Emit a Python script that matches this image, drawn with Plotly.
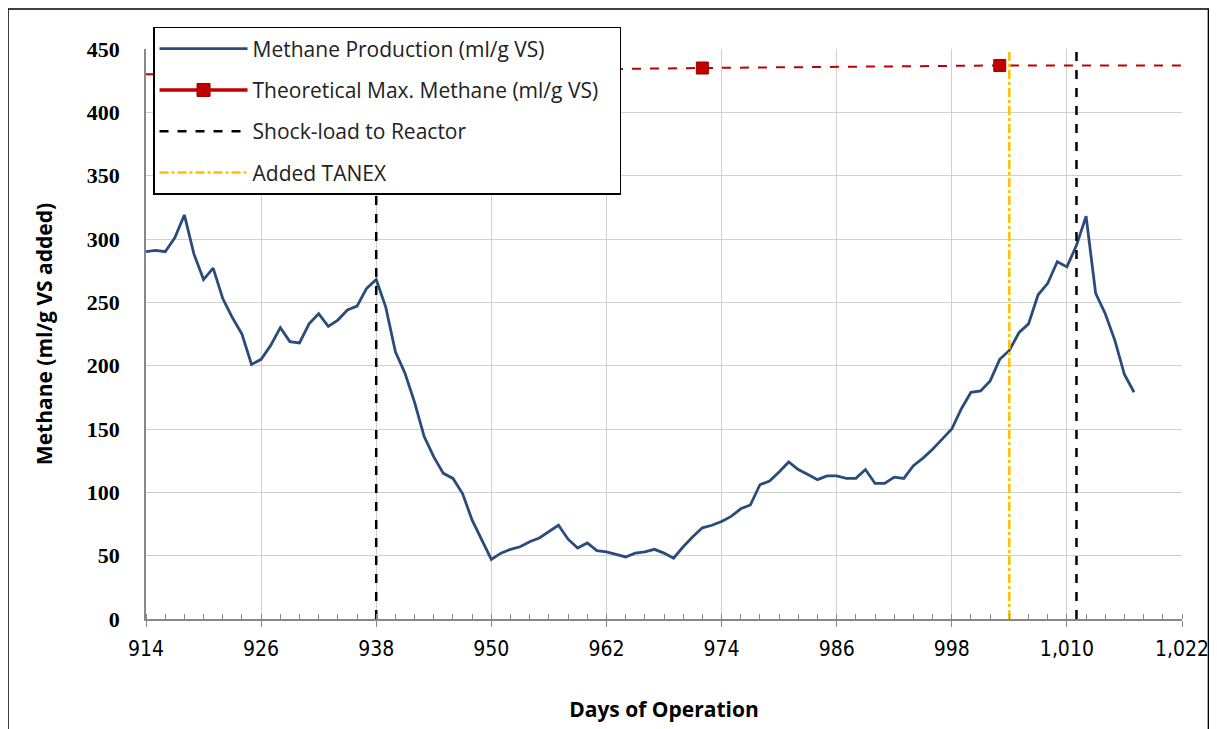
import plotly.graph_objects as go

days = list(range(914, 1018))
methane = [290, 291, 290, 301, 319, 288, 268, 277, 253, 238,
           225, 201, 205, 216, 230, 219, 218, 233, 241, 231,
           236, 244, 247, 261, 268, 246, 211, 194, 171, 144,
           128, 115, 111, 99, 78, 62, 47, 52, 55, 57,
           61, 64, 69, 74, 63, 56, 60, 54, 53, 51,
           49, 52, 53, 55, 52, 48, 57, 65, 72, 74,
           77, 81, 87, 90, 106, 109, 116, 124, 118, 114,
           110, 113, 113, 111, 111, 118, 107, 107, 112, 111,
           121, 127, 134, 142, 150, 166, 179, 180, 188, 205,
           212, 226, 233, 256, 265, 282, 278, 295, 318, 257,
           241, 220, 193, 179]

theo_days = [914, 972, 1003, 1022]
theo_vals = [430, 435, 437, 437]
theo_marker_days = [972, 1003]
theo_marker_vals = [435, 437]

shock_days = [938, 1011]
tanex_day = 1004
y_top = 450

RED = "#C00000"
FONT = "Open Sans, Noto Sans, sans-serif"

fig = go.Figure()

fig.add_trace(go.Scatter(
    x=days, y=methane, mode="lines", name="Methane Production (ml/g VS)",
    line=dict(color="#2B4B7A", width=2.8), legendgroup="a"))

# theoretical max: dashed line + markers, legend shown by a legend-only entry
fig.add_trace(go.Scatter(
    x=theo_days, y=theo_vals, mode="lines", showlegend=False,
    line=dict(color=RED, width=2, dash="dash"), legendgroup="b", hoverinfo="skip"))
fig.add_trace(go.Scatter(
    x=theo_marker_days, y=theo_marker_vals, mode="markers", showlegend=False,
    marker=dict(symbol="square", size=12, color=RED, line=dict(color="#9B0000", width=1)),
    legendgroup="b"))
fig.add_trace(go.Scatter(
    x=[None], y=[None], mode="lines+markers",
    name="Theoretical Max. Methane (ml/g VS)\u00a0\u00a0\u00a0",
    line=dict(color=RED, width=3.5),
    marker=dict(symbol="square", size=13, color=RED, line=dict(color="#9B0000", width=1)),
    legendgroup="b"))

sx, sy = [], []
for d in shock_days:
    sx += [d, d, None]
    sy += [0, y_top, None]
fig.add_trace(go.Scatter(
    x=sx, y=sy, mode="lines", name="Shock-load to Reactor",
    line=dict(color="black", width=2.5, dash="dash"), legendgroup="c"))

fig.add_trace(go.Scatter(
    x=[tanex_day, tanex_day], y=[0, y_top], mode="lines", name="Added TANEX",
    line=dict(color="#FFC000", width=2.5, dash="dashdot"), legendgroup="d"))

fig.update_layout(
    width=1217, height=729,
    margin=dict(l=138, r=43, t=41, b=118),
    paper_bgcolor="white", plot_bgcolor="white",
    showlegend=True,
    legend=dict(
        x=0.0068, y=1.0386, xanchor="left", yanchor="top",
        bgcolor="white", bordercolor="black", borderwidth=1.5,
        font=dict(family=FONT, size=21, color="#222"),
        traceorder="grouped", tracegroupgap=11, itemwidth=88,
    ),
    shapes=[dict(type="rect", xref="paper", yref="paper",
                 x0=-0.1332, x1=1.0255, y0=-0.3, y1=1.0702,
                 line=dict(color="black", width=1.5), fillcolor="rgba(0,0,0,0)",
                 layer="below")],
)

fig.update_xaxes(
    range=[914, 1022], tick0=914, dtick=12, tickformat=",d",
    showgrid=True, gridcolor="#D0D0D0", gridwidth=1,
    showline=True, linecolor="#888888", linewidth=1.5,
    ticks="outside", ticklen=6, tickcolor="#888888",
    minor=dict(dtick=2, ticks="inside", ticklen=5, tickcolor="#888888", showgrid=False),
    tickfont=dict(family="DejaVu Sans Condensed, Liberation Sans Narrow, sans-serif", size=21, color="black"),
    ticklabelstandoff=4,
    title=dict(text="<b>Days of Operation</b>", standoff=42,
               font=dict(family=FONT, size=21, color="black")),
    zeroline=False,
)
fig.update_yaxes(
    range=[0, 450], dtick=50,
    showgrid=True, gridcolor="#D0D0D0", gridwidth=1,
    showline=True, linecolor="#888888", linewidth=1.5,
    ticks="", ticklabelstandoff=20,
    tickfont=dict(family="Liberation Serif, DejaVu Serif, serif", size=22, color="black", weight="bold"),
    title=dict(text="<b>Methane (ml/g VS added)</b>", standoff=28,
               font=dict(family=FONT, size=21, color="black")),
    zeroline=False,
)

fig.write_html("out.html")
